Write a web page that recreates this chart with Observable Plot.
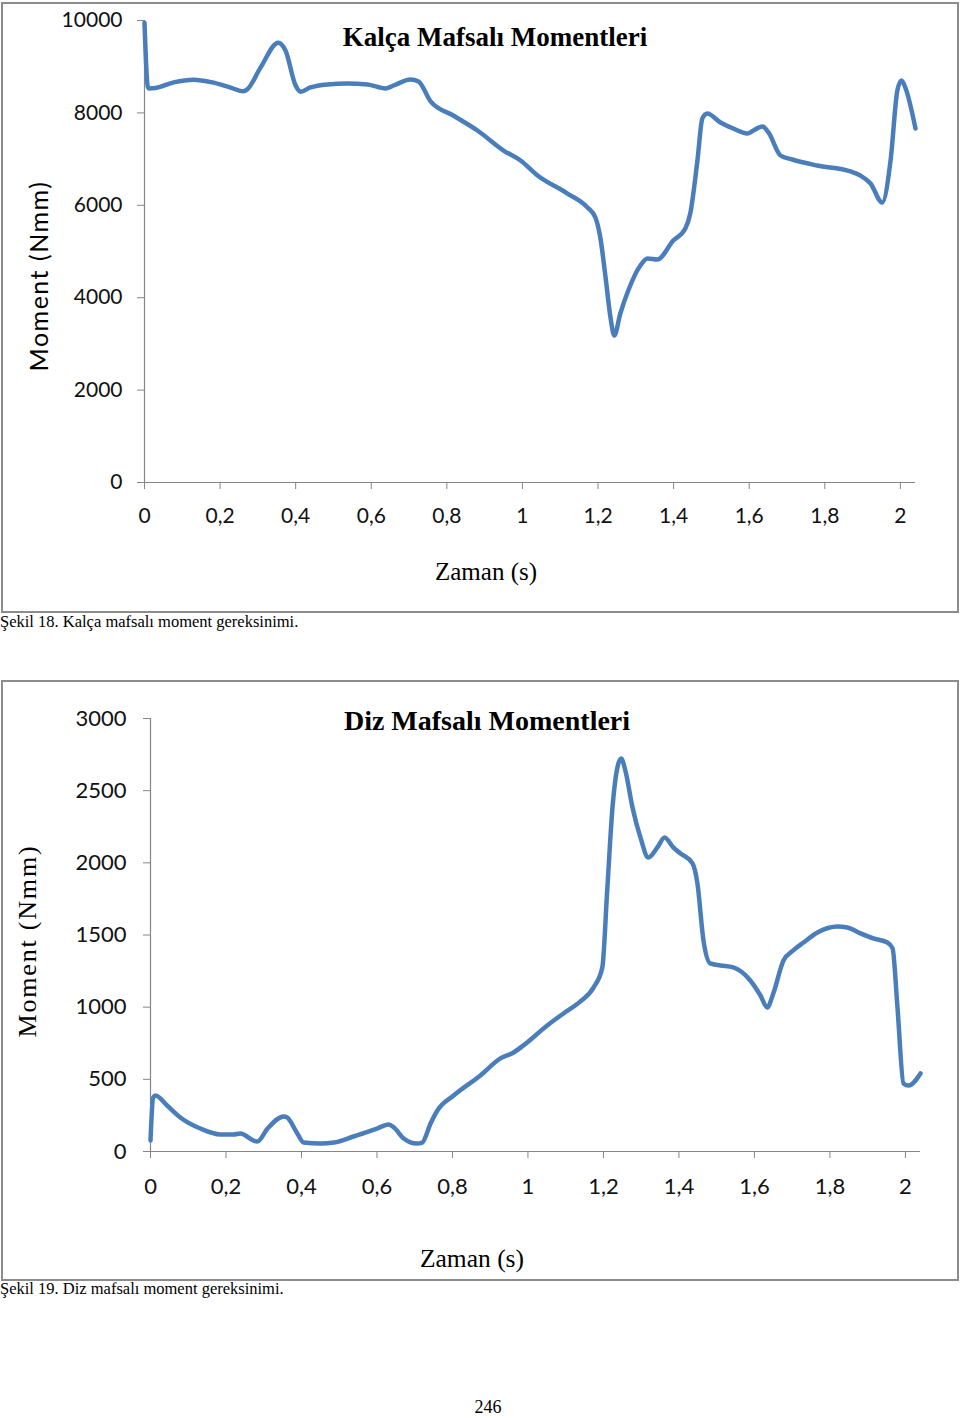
<!DOCTYPE html>
<html>
<head>
<meta charset="utf-8">
<script src="https://cdn.jsdelivr.net/npm/d3@7"></script>
<script src="https://cdn.jsdelivr.net/npm/@observablehq/plot@0.6"></script>
<style>
  html, body { margin: 0; padding: 0; background: #fff; }
  body { position: relative; width: 960px; height: 1418px; overflow: hidden; }
  .box { position: absolute; box-sizing: border-box; border: 2px solid #8c8c8c; background: #fff; }
  .box svg { display: block; }
  .t { position: absolute; white-space: nowrap; line-height: 1; color: #000; }
  .serif { font-family: "Liberation Serif", "Times New Roman", serif; }
  .sans { font-family: Lato, "Open Sans", sans-serif; }
</style>
</head>
<body>
<script>
// ---------- data ----------
const xTicks = [0, 0.2, 0.4, 0.6, 0.8, 1, 1.2, 1.4, 1.6, 1.8, 2];

// Şekil 18 – Kalça mafsalı (hip joint)
const hipTitle = "Kalça Mafsalı Momentleri";
const hipYTicks = [0, 2000, 4000, 6000, 8000, 10000];
const hipTime = [0, 0.008, 0.011, 0.03, 0.077, 0.13, 0.18, 0.22, 0.262, 0.272, 0.307, 0.354, 0.373, 0.4, 0.413, 0.439, 0.484, 0.537, 0.59, 0.638, 0.659, 0.704, 0.725, 0.757, 0.817, 0.881, 0.95, 0.995, 1.04, 1.119, 1.172, 1.193, 1.206, 1.22, 1.233, 1.243, 1.259, 1.28, 1.312, 1.331, 1.357, 1.399, 1.431, 1.444, 1.463, 1.476, 1.489, 1.524, 1.558, 1.595, 1.611, 1.635, 1.651, 1.683, 1.714, 1.78, 1.868, 1.894, 1.921, 1.952, 1.974, 1.992, 2.003, 2.013, 2.04];
const hipMoment = [9950, 8600, 8530, 8540, 8660, 8720, 8660, 8570, 8470, 8510, 8980, 9520, 9350, 8590, 8460, 8550, 8615, 8636, 8615, 8530, 8593, 8723, 8680, 8250, 7944, 7619, 7186, 6970, 6645, 6255, 5952, 5736, 5303, 4437, 3571, 3182, 3658, 4156, 4697, 4848, 4827, 5238, 5498, 5823, 6970, 7879, 7987, 7792, 7662, 7554, 7619, 7705, 7576, 7078, 6991, 6861, 6732, 6645, 6472, 6061, 6970, 8485, 8701, 8550, 7662];

// Şekil 19 – Diz mafsalı (knee joint)
const kneeTitle = "Diz Mafsalı Momentleri";
const kneeYTicks = [0, 500, 1000, 1500, 2000, 2500, 3000];
const kneeTime = [0, 0.007, 0.013, 0.044, 0.079, 0.132, 0.185, 0.22, 0.238, 0.273, 0.283, 0.31, 0.353, 0.362, 0.389, 0.406, 0.45, 0.486, 0.538, 0.6, 0.631, 0.645, 0.671, 0.706, 0.72, 0.742, 0.76, 0.803, 0.874, 0.927, 0.962, 0.988, 1.051, 1.094, 1.139, 1.174, 1.197, 1.21, 1.224, 1.237, 1.247, 1.258, 1.277, 1.298, 1.319, 1.343, 1.362, 1.385, 1.404, 1.436, 1.449, 1.465, 1.483, 1.51, 1.544, 1.589, 1.616, 1.634, 1.65, 1.677, 1.703, 1.73, 1.767, 1.82, 1.846, 1.881, 1.915, 1.952, 1.966, 1.979, 1.995, 2.008, 2.04];
const kneeMoment = [76, 374, 388, 319, 236, 159, 118, 118, 125, 76, 69, 159, 243, 236, 125, 62, 55, 62, 104, 159, 187, 166, 90, 55, 62, 194, 284, 388, 527, 645, 686, 735, 873, 956, 1040, 1137, 1275, 1809, 2384, 2661, 2723, 2640, 2384, 2176, 2037, 2107, 2176, 2107, 2065, 1996, 1857, 1462, 1303, 1289, 1275, 1185, 1081, 998, 1095, 1324, 1393, 1448, 1518, 1559, 1552, 1511, 1476, 1448, 1407, 998, 471, 457, 541];

const yLabel = "Moment (Nmm)";
const xLabel = "Zaman (s)";
const caption18 = "Şekil 18. Kalça mafsalı moment gereksinimi.";
const caption19 = "Şekil 19. Diz mafsalı moment gereksinimi.";
const pageNo = "246";

// ---------- helpers ----------
const fmtX = d => String(Math.round(d * 10) / 10).replace(".", ",");

function makeChart(o) {
  const data = o.t.map((t, i) => ({t, m: o.m[i]}));
  return Plot.plot({
    width: o.w, height: o.h,
    marginLeft: o.mL, marginRight: o.mR, marginTop: o.mT, marginBottom: o.mB,
    style: {fontFamily: "Lato, 'Open Sans', sans-serif", fontSize: o.fs + "px", color: "#111", background: "transparent", overflow: "visible"},
    x: {domain: [0, 2.04], label: null},
    y: {domain: o.yDomain, label: null},
    marks: [
      Plot.ruleY([0], {stroke: "#868686", strokeWidth: 1.2}),
      Plot.ruleX([0], {stroke: "#868686", strokeWidth: 1.2}),
      Plot.axisY({ticks: o.yTicks, tickSize: 7, tickPadding: o.padY, tickFormat: d => String(d), stroke: "#868686", fill: "#111", label: null}),
      Plot.axisX({ticks: xTicks, tickSize: 7, tickPadding: o.padX, tickFormat: fmtX, stroke: "#868686", fill: "#111", label: null}),
      Plot.line(data, {x: "t", y: "m", stroke: "#4a7ebb", strokeWidth: 4.5, curve: "monotone-x", strokeLinejoin: "round", strokeLinecap: "round"})
    ]
  });
}

function box(left, top, w, h, svg) {
  const d = document.createElement("div");
  d.className = "box";
  Object.assign(d.style, {left: left + "px", top: top + "px", width: w + "px", height: h + "px"});
  d.appendChild(svg);
  document.body.appendChild(d);
}

// place text: x anchor (left/center), baseline y
function label(text, x, baseline, size, cls, opts = {}) {
  const d = document.createElement("div");
  d.className = "t " + cls;
  d.textContent = text;
  const asc = cls === "serif" ? 0.8375 : 0.887;
  d.style.fontSize = size + "px";
  if (opts.bold) d.style.fontWeight = "bold";
  if (opts.ls) d.style.letterSpacing = opts.ls + "px";
  d.style.top = (baseline - asc * size) + "px";
  d.style.left = x + "px";
  if (opts.center) d.style.transform = "translateX(-50%)";
  document.body.appendChild(d);
}

function vlabel(text, cx, cy, size, cls, opts = {}) {
  const d = document.createElement("div");
  d.className = "t " + cls;
  d.textContent = text;
  d.style.fontSize = size + "px";
  if (opts.ls) d.style.letterSpacing = opts.ls + "px";
  d.style.left = cx + "px";
  d.style.top = cy + "px";
  d.style.transform = "translate(-50%,-50%) rotate(-90deg)";
  document.body.appendChild(d);
}

// ---------- chart 1 ----------
box(1, 2, 958, 611, makeChart({
  t: hipTime, m: hipMoment, yDomain: [0, 10000], yTicks: hipYTicks,
  w: 954, h: 607, mL: 141, mR: 42, mT: 16, mB: 129, fs: 21, padY: 15, padX: 19
}));
label(hipTitle, 495, 47, 27, "serif", {bold: true, center: true});
label(xLabel, 486, 580, 25, "serif", {center: true});
vlabel(yLabel, 38, 276, 25, "sans", {ls: 1.5});
label(caption18, 0, 628, 16.5, "serif");

// ---------- chart 2 ----------
box(1, 680, 958, 601, makeChart({
  t: kneeTime, m: kneeMoment, yDomain: [0, 3000], yTicks: kneeYTicks,
  w: 954, h: 597, mL: 147, mR: 37, mT: 36, mB: 128, fs: 22, padY: 17, padX: 20
}));
label(kneeTitle, 487, 730, 28, "serif", {bold: true, center: true});
label(xLabel, 472, 1267, 25.5, "serif", {center: true});
vlabel(yLabel, 28, 941, 26, "serif", {ls: 1.8});
label(caption19, 0, 1295, 16.5, "serif");

label(pageNo, 488, 1413, 18, "serif", {center: true});
</script>
</body>
</html>
